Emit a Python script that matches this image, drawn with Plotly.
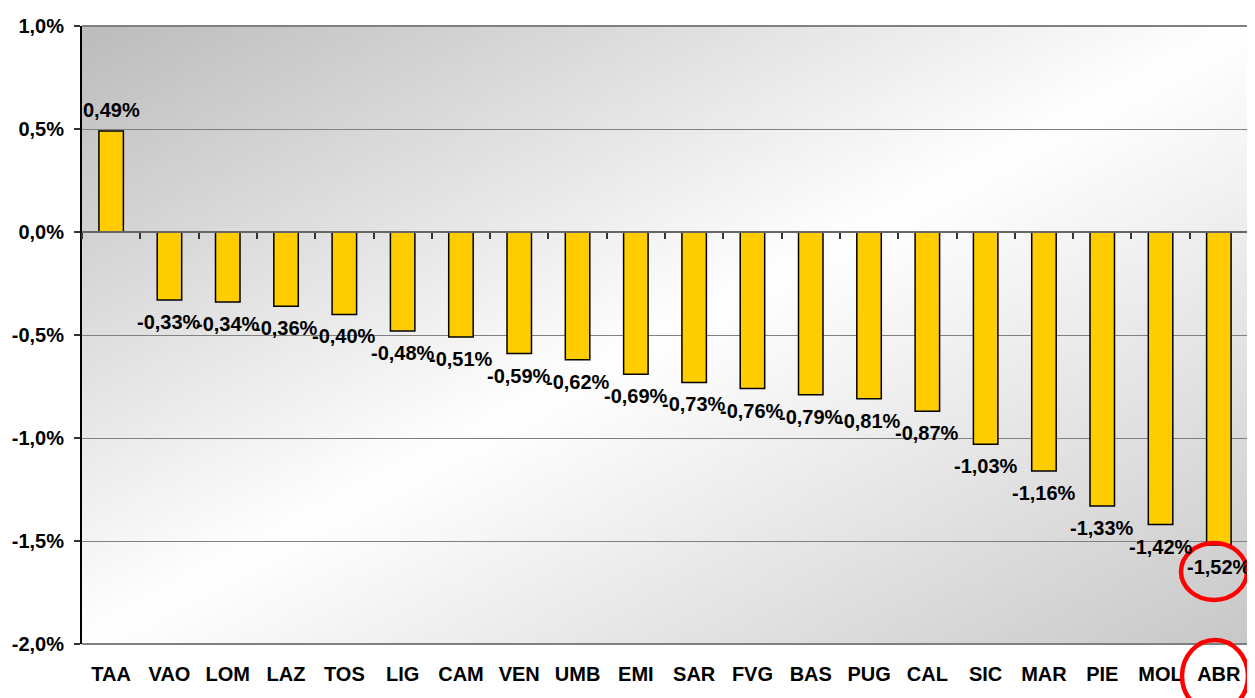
import base64, struct, zlib
import plotly.graph_objects as go

regions = ["TAA", "VAO", "LOM", "LAZ", "TOS", "LIG", "CAM", "VEN", "UMB", "EMI",
           "SAR", "FVG", "BAS", "PUG", "CAL", "SIC", "MAR", "PIE", "MOL", "ABR"]
values = [0.49, -0.33, -0.34, -0.36, -0.40, -0.48, -0.51, -0.59, -0.62, -0.69,
          -0.73, -0.76, -0.79, -0.81, -0.87, -1.03, -1.16, -1.33, -1.42, -1.52]
labels = ["0,49%", "-0,33%", "-0,34%", "-0,36%", "-0,40%", "-0,48%", "-0,51%", "-0,59%",
          "-0,62%", "-0,69%", "-0,73%", "-0,76%", "-0,79%", "-0,81%", "-0,87%", "-1,03%",
          "-1,16%", "-1,33%", "-1,42%", "-1,52%"]
y_ticks = [1.0, 0.5, 0.0, -0.5, -1.0, -1.5, -2.0]
y_tick_text = ["1,0%", "0,5%", "0,0%", "-0,5%", "-1,0%", "-1,5%", "-2,0%"]


def gradient_png(w=240, h=130, g1=188, g2=200):
    raw = bytearray()
    for j in range(h):
        v = j / (h - 1)
        raw.append(0)
        for i in range(w):
            u = i / (w - 1)
            t = u + v
            if t <= 1:
                c = g1 + (255 - g1) * t
            else:
                c = 255 - (255 - g2) * (t - 1)
            c = int(round(c))
            raw += bytes((c, c, c))

    def chunk(tag, data):
        return (struct.pack(">I", len(data)) + tag + data
                + struct.pack(">I", zlib.crc32(tag + data) & 0xffffffff))

    png = b"\x89PNG\r\n\x1a\n"
    png += chunk(b"IHDR", struct.pack(">IIBBBBB", w, h, 8, 2, 0, 0, 0))
    png += chunk(b"IDAT", zlib.compress(bytes(raw), 9))
    png += chunk(b"IEND", b"")
    return "data:image/png;base64," + base64.b64encode(png).decode()


FONT = "Liberation Sans, Arial, sans-serif"
FS = 20

fig = go.Figure()
fig.add_trace(go.Bar(
    x=regions, y=values, width=0.42,
    marker=dict(color="#FFCC00", line=dict(color="#000000", width=1.5)),
    hoverinfo="skip", showlegend=False,
))
# invisible trace carrying the zero-line tick axis
fig.add_trace(go.Bar(x=regions, y=[0] * len(regions), xaxis="x2", yaxis="y",
                     marker=dict(opacity=0), showlegend=False, hoverinfo="skip"))

for r, v, t in zip(regions, values, labels):
    fig.add_annotation(x=r, y=v, text="<b>%s</b>" % t, showarrow=False,
                       xref="x", yref="y", yanchor="middle",
                       yshift=21 if v >= 0 else -22,
                       font=dict(family=FONT, size=FS, color="#000000"))

# the page body adds an 8px offset, so the figure is shrunk by that amount
OFF = 8
W, H = 1255 - OFF, 698 - OFF
PL, PT, PW, PH = 82 - OFF, 26 - OFF, 1166, 618
L, T = PL, PT
R, B = W - PL - PW, H - PT - PH


def px(x):
    return (x - 82) / PW


def py(y):
    return (644 - y) / PH


fig.update_layout(
    width=W, height=H,
    margin=dict(l=L, r=R, t=T, b=B, autoexpand=False),
    paper_bgcolor="#FFFFFF", plot_bgcolor="rgba(0,0,0,0)",
    barmode="overlay",
    images=[dict(source=gradient_png(), xref="paper", yref="paper", x=0, y=1,
                 sizex=1, sizey=1, sizing="stretch", xanchor="left", yanchor="top",
                 layer="below")],
    xaxis=dict(type="category", categoryorder="array", categoryarray=regions,
               range=[-0.5, 19.5], showgrid=False, showline=False, ticks="",
               zeroline=False, ticklabelstandoff=16,
               tickfont=dict(family=FONT, size=FS, color="#000000", weight="bold")),
    xaxis2=dict(type="category", categoryorder="array", categoryarray=regions,
                range=[-0.5, 19.5], overlaying="x", anchor="free", position=2 / 3,
                side="bottom", showgrid=False, showline=True, linecolor="#666666",
                linewidth=1.5, ticks="outside", ticklen=6, tickwidth=1.5,
                tickcolor="#333333", tickson="boundaries", showticklabels=False,
                zeroline=False),
    yaxis=dict(range=[-2.0, 1.0], tickvals=y_ticks, ticktext=y_tick_text,
               showgrid=True, gridcolor="#808080", gridwidth=1,
               zeroline=False, showline=True, linecolor="#000000", linewidth=2,
               ticks="outside", ticklen=6, tickcolor="#333333", tickwidth=1.5,
               ticklabelstandoff=6,
               tickfont=dict(family=FONT, size=FS, color="#000000", weight="bold")),
    shapes=[
        dict(type="line", xref="paper", yref="paper", x0=0, x1=1, y0=1, y1=1,
             line=dict(color="#808080", width=2)),
        dict(type="line", xref="paper", yref="paper", x0=1, x1=1, y0=0, y1=1,
             line=dict(color="#808080", width=2)),
        dict(type="line", xref="paper", yref="paper", x0=0, x1=1, y0=0, y1=0,
             line=dict(color="#808080", width=2)),
        dict(type="circle", xref="paper", yref="paper",
             x0=px(1181), x1=px(1247), y0=py(600), y1=py(543),
             line=dict(color="#FF0000", width=4.5)),
        dict(type="circle", xref="paper", yref="paper",
             x0=px(1182), x1=px(1248), y0=py(712), y1=py(640),
             line=dict(color="#FF0000", width=4.5)),
    ],
)

fig.write_html("out.html")
